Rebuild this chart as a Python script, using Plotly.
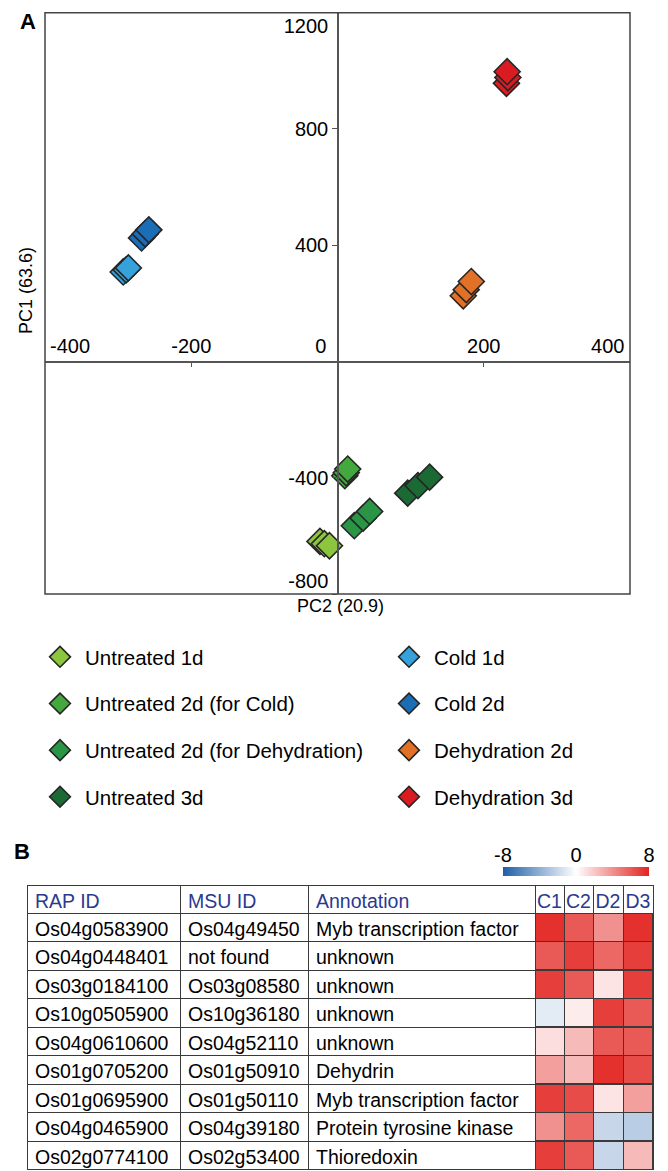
import plotly.graph_objects as go

W, H = 668, 1171

# ---------------- Panel A data ----------------
groups = ["Untreated 1d", "Untreated 2d (for Cold)", "Untreated 2d (for Dehydration)", "Untreated 3d",
          "Cold 1d", "Cold 2d", "Dehydration 2d", "Dehydration 3d"]
colors = ["#8cc63e", "#43a83e", "#2a9645", "#1b6a34", "#36a2dc", "#1b6db5", "#e27127", "#da1c22"]
pc2 = {
    "Untreated 1d": [-24, -18, -11],
    "Untreated 2d (for Cold)": [10, 12, 14],
    "Untreated 2d (for Dehydration)": [23, 35, 44],
    "Untreated 3d": [96, 110, 126],
    "Cold 1d": [-293, -289, -286],
    "Cold 2d": [-268, -263, -258],
    "Dehydration 2d": [172, 176, 183],
    "Dehydration 3d": [231, 233, 232],
}
pc1 = {
    "Untreated 1d": [-619, -627, -634],
    "Untreated 2d (for Cold)": [-393, -383, -370],
    "Untreated 2d (for Dehydration)": [-565, -539, -516],
    "Untreated 3d": [-453, -427, -398],
    "Cold 1d": [308, 315, 322],
    "Cold 2d": [425, 439, 453],
    "Dehydration 2d": [226, 247, 275],
    "Dehydration 3d": [957, 977, 997],
}
x_ticks = [-400, -200, 0, 200, 400]
x_ticktext = ["\u00a0" * 9 + "-400", "-200", "0" + "\u00a0" * 6, "200", "400" + "\u00a0" * 8]
y_ticks = [-800, -400, 400, 800, 1200]
y_ticktext = ["-800<br>\u00a0", "-400", "400", "800", "<br>1200"]

# ---------------- Panel B data ----------------
rap_ids = ["Os04g0583900", "Os04g0448401", "Os03g0184100", "Os10g0505900", "Os04g0610600",
           "Os01g0705200", "Os01g0695900", "Os04g0465900", "Os02g0774100"]
msu_ids = ["Os04g49450", "not found", "Os03g08580", "Os10g36180", "Os04g52110",
           "Os01g50910", "Os01g50110", "Os04g39180", "Os02g53400"]
annotations = ["Myb transcription factor", "unknown", "unknown", "unknown", "unknown",
               "Dehydrin", "Myb transcription factor", "Protein tyrosine kinase", "Thioredoxin"]
conditions = ["C1", "C2", "D2", "D3"]
expr = [
    [7.5, 6.0, 4.0, 7.5],
    [6.0, 7.0, 5.5, 7.0],
    [7.0, 6.0, 1.0, 7.0],
    [-1.0, 0.7, 7.0, 6.0],
    [1.2, 2.5, 6.0, 6.0],
    [3.5, 2.5, 7.5, 6.5],
    [7.0, 6.5, 1.0, 3.5],
    [4.0, 5.5, -2.0, -2.5],
    [7.0, 6.0, -2.0, 2.5],
]
scale_ticks = [-8, 0, 8]
scale_ticktext = ["-8", "0", "8"]

FONT = "Liberation Sans, Arial, Helvetica, sans-serif"
fig = go.Figure()


def px_x(p):
    return p / W


def px_y(p):
    return (H - p) / H


for i, g in enumerate(groups):
    fig.add_trace(go.Scatter(
        x=pc2[g], y=pc1[g], mode="markers", name=g,
        marker=dict(symbol="diamond", size=20, color=colors[i],
                    line=dict(color="#262626", width=1.6)),
        legend="legend" if i < 4 else "legend2",
        legendgroup=g, xaxis="x", yaxis="y",
    ))

# table
navy = "#2b3990"
fig.add_trace(go.Table(
    domain=dict(x=[px_x(27), px_x(653)], y=[0, px_y(885)]),
    columnwidth=[153, 128, 227, 29, 29, 30, 30],
    header=dict(values=["RAP ID", "MSU ID", "Annotation"] + conditions,
                font=dict(family=FONT, size=19.5, color=navy),
                fill=dict(color="white"), line=dict(color="#3a3a3a", width=1),
                align=["left", "left", "left", "center", "center", "center", "center"],
                height=28),
    cells=dict(values=[rap_ids, msu_ids, annotations] + [[""] * len(rap_ids)] * 4,
               font=dict(family=FONT, size=19.5, color="black"),
               fill=dict(color=["white", "white", "white"] + ["rgba(0,0,0,0)"] * 4),
               line=dict(color="#3a3a3a", width=1),
               align="left", height=28.5),
))

fig.add_trace(go.Heatmap(
    z=expr, x=conditions, y=list(range(len(rap_ids))),
    xaxis="x2", yaxis="y2", zmin=-8, zmax=8, xgap=1, ygap=1,
    colorscale=[[0, "#1f5fa8"], [0.5, "#ffffff"], [1, "#e2231f"]],
    showscale=True, hoverinfo="skip",
    colorbar=dict(orientation="h", x=px_x(576), xanchor="center",
                  y=px_y(876), yanchor="bottom", len=146, lenmode="pixels",
                  thickness=9, showticklabels=False,
                  ticks="", outlinewidth=0, xpad=0, ypad=0),
))

# helper axis carrying the colour-scale tick labels (invisible points)
fig.add_trace(go.Scatter(
    x=scale_ticks, y=[0.5] * len(scale_ticks), xaxis="x3", yaxis="y3",
    mode="markers", marker=dict(opacity=0, size=1), showlegend=False, hoverinfo="skip",
))

layout_axis_font = dict(family=FONT, size=20, color="black")
fig.update_layout(
    width=W, height=H, margin=dict(l=0, r=0, t=0, b=0, autoexpand=False),
    paper_bgcolor="white", plot_bgcolor="white",
    font=dict(family=FONT, size=20, color="black"),
    xaxis=dict(domain=[px_x(45), px_x(630)], range=[-400, 400], anchor="free",
               position=px_y(361.7), side="top", showline=True, linecolor="#555",
               linewidth=1.5, ticks="inside", ticklen=5, tickcolor="#555",
               tickvals=x_ticks, ticktext=x_ticktext, showgrid=False, zeroline=False,
               ticklabeloverflow="allow", tickfont=layout_axis_font),
    yaxis=dict(domain=[px_y(594), px_y(12.7)], range=[-800, 1200], anchor="free",
               position=px_x(338), side="left", showline=True, linecolor="#555",
               linewidth=1.5, ticks="outside", ticklen=5, tickcolor="#555",
               tickvals=y_ticks, ticktext=y_ticktext, showgrid=False, zeroline=False,
               ticklabeloverflow="allow", tickfont=layout_axis_font),
    xaxis2=dict(domain=[px_x(535), px_x(653)], anchor="y2", showticklabels=False,
                showgrid=False, zeroline=False, showline=False, ticks=""),
    yaxis2=dict(domain=[px_y(1169.5), px_y(913)], anchor="x2", autorange="reversed",
                showticklabels=False, showgrid=False, zeroline=False, showline=False, ticks=""),
    xaxis3=dict(domain=[px_x(503), px_x(649)], anchor="y3", range=[-8, 8], side="top",
                tickvals=scale_ticks, ticktext=scale_ticktext, showgrid=False,
                zeroline=False, showline=False,
                ticks="", ticklabeloverflow="allow", tickfont=layout_axis_font),
    yaxis3=dict(domain=[px_y(876), px_y(867)], anchor="x3", visible=False, range=[0, 1]),
    legend=dict(x=px_x(35), y=px_y(637), xanchor="left", yanchor="top",
                tracegroupgap=17, itemwidth=40, bgcolor="rgba(0,0,0,0)",
                font=dict(family=FONT, size=20.5, color="black")),
    legend2=dict(x=px_x(384), y=px_y(637), xanchor="left", yanchor="top",
                 tracegroupgap=17, itemwidth=40, bgcolor="rgba(0,0,0,0)",
                 font=dict(family=FONT, size=20.5, color="black")),
    shapes=[
        dict(type="rect", xref="x domain", yref="y domain", x0=0, x1=1, y0=0, y1=1,
             line=dict(color="#444", width=1.5), layer="above"),
        dict(type="rect", xref="x2 domain", yref="y2 domain", x0=0, x1=1, y0=0, y1=1,
             fillcolor="#3a3a3a", line=dict(width=0), layer="below"),
    ],
    annotations=[
        dict(text="<b>A</b>", x=px_x(28), y=px_y(22), xref="paper", yref="paper",
             xanchor="center", yanchor="middle",
             showarrow=False, font=dict(family=FONT, size=22)),
        dict(text="<b>B</b>", x=px_x(22), y=px_y(851), xref="paper", yref="paper",
             xanchor="center", yanchor="middle",
             showarrow=False, font=dict(family=FONT, size=22)),
        dict(text="PC2 (20.9)", x=px_x(340), y=px_y(606), xref="paper", yref="paper",
             xanchor="center", yanchor="middle",
             showarrow=False, font=dict(family=FONT, size=18)),
        dict(text="PC1 (63.6)", x=px_x(26), y=px_y(291), xref="paper", yref="paper",
             xanchor="center", yanchor="middle",
             showarrow=False, textangle=-90, font=dict(family=FONT, size=18)),
    ],
)

fig.write_html("out.html", config={"displayModeBar": False},
               post_script="document.body.style.margin='0px';document.body.style.overflow='hidden';")
